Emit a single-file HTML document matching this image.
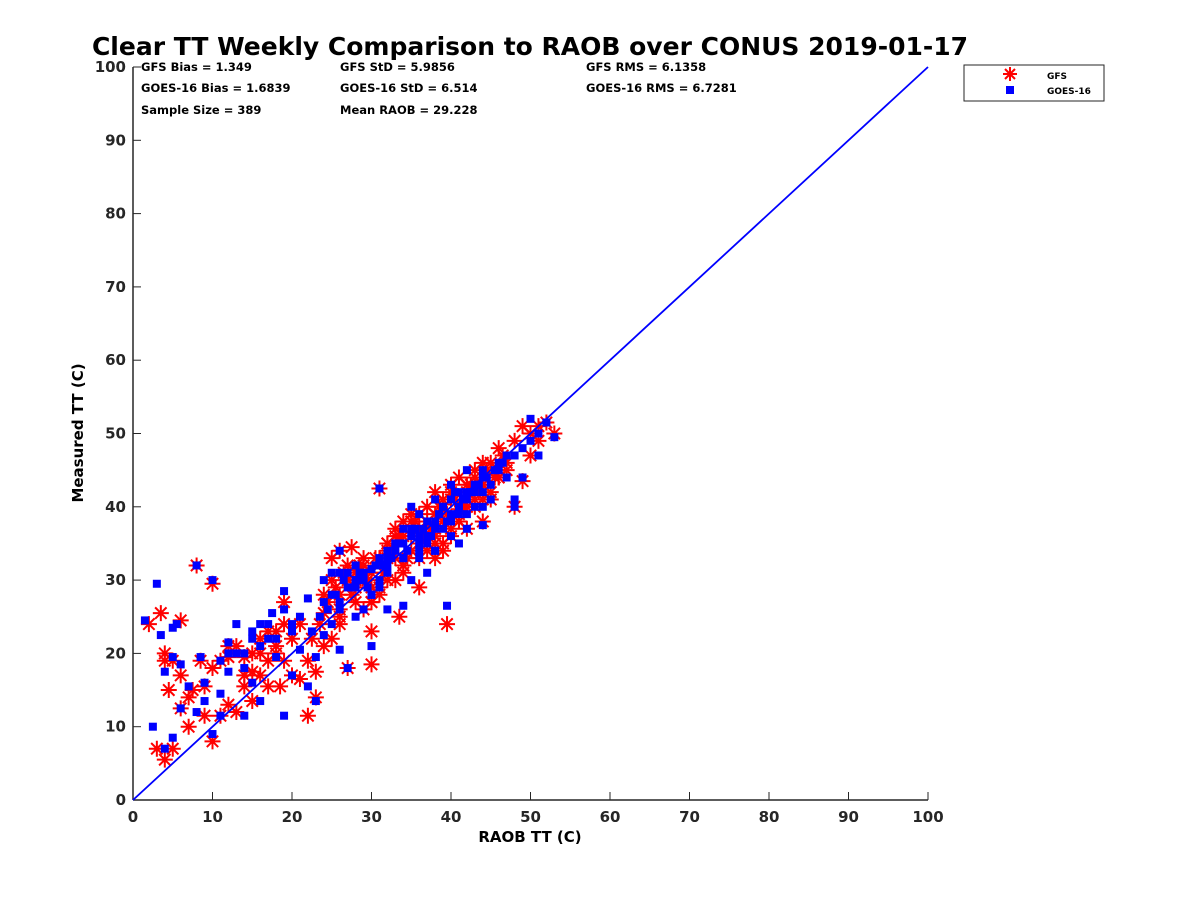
<!DOCTYPE html>
<html><head><meta charset="utf-8"><style>
body{margin:0;background:#fff}
svg{display:block;font-family:"DejaVu Sans","Liberation Sans",sans-serif;font-weight:bold}
</style></head><body>
<svg id="chart" width="1200" height="900" viewBox="0 0 1200 900">
<rect width="1200" height="900" fill="#fff"/>
<text x="530" y="55" font-size="25" text-anchor="middle">Clear TT Weekly Comparison to RAOB over CONUS 2019-01-17</text>
<g font-size="11.5">
<text x="141" y="71">GFS Bias = 1.349</text>
<text x="141" y="92">GOES-16 Bias = 1.6839</text>
<text x="141" y="114">Sample Size = 389</text>
<text x="340" y="71">GFS StD = 5.9856</text>
<text x="340" y="92">GOES-16 StD = 6.514</text>
<text x="340" y="114">Mean RAOB = 29.228</text>
<text x="586" y="71">GFS RMS = 6.1358</text>
<text x="586" y="92">GOES-16 RMS = 6.7281</text>
</g>
<g id="plot"></g>
<g>
<rect x="964" y="65" width="140" height="36" fill="#fff" stroke="#262626" stroke-width="1"/>
<g stroke="red" stroke-width="2">
<line x1="1010" y1="67" x2="1010" y2="81"/><line x1="1003" y1="74" x2="1017" y2="74"/>
<line x1="1005" y1="69" x2="1015" y2="79"/><line x1="1005" y1="79" x2="1015" y2="69"/></g>
<rect x="1006" y="86" width="8" height="8" fill="blue"/>
<text x="1047" y="79" font-size="9">GFS</text>
<text x="1047" y="94" font-size="9">GOES-16</text>
</g>
<text x="530" y="842" font-size="15" text-anchor="middle">RAOB TT (C)</text>
<text transform="translate(83,433) rotate(-90)" font-size="15" text-anchor="middle">Measured TT (C)</text>
</svg>
<script>
const xTicks=[0,10,20,30,40,50,60,70,80,90,100];
const yTicks=[0,10,20,30,40,50,60,70,80,90,100];
const gfsX=[2,3,3.5,4,4,4,4.5,5,5,6,6,6,7,7.5,8,8.5,9,9,10,10,11,11,12,12,13,13,14,14,15,15,16,16,17,17,18,18,18.5,19,19,20,21,21,22,22,23,23,24,24,25,25,26,26,26,27,27,27.5,28,28,29,29,30,30,30,31,31,32,32,33,33,33.5,34,34,35,35,36,36,36,37,37,38,38,38,39,39,39.5,40,40,41,41,42,42,43,43,44,44,45,45,46,46,47,48,49,49,50,51,52,53,29,31,33,35,37,39,41,43,28,30,32,34,36,38,40,42,44,46,
25.5,26.5,27.5,28.5,29.5,30.5,31.5,32.5,33.5,34.5,35.5,36.5,37.5,38.5,39.5,40.5,41.5,42.5,43.5,44.5,45.5,46.5,24.5,26,28,30,32,34,36,38,40,42,44,46,23.5,25,27,29,31,33,35,37,39,41,43,45,47,22.5,24,26,28,30,32,34,36,38,40,42,44,48,50,51,12,14,16,18,20,10,7,15,17,19];
const gfsY=[24,7,25.5,19,20,5.5,15,7,19,24.5,12.5,17,14,15,32,19,11.5,15.5,8,29.5,19,11.5,13,19.5,12,21,19.5,15.5,17.5,13.5,22,17,19,15.5,23,20,15.5,27,19,17,24,16.5,11.5,19,14,17.5,25.5,21,30,22,34,28,24,32,18,34.5,27,30,33,26,23,18.5,31,42.5,28,35,30,33,37,25,31,38,39,34,37,29,33,40,35,42,33,37,38,34,24,41,36,44,39,42,37,40,45,43,38,46,41,44,48,46,40,43.5,51,47,49,51.5,50,31,33,30,36,38,35,38,41,29,27,34,32,39,36,42,40,43,45,
29,31,28,32,30,33,31,34,36,33,38,36,37,40,39,41,40,43,42,45,44,47,27,26,31,29,35,36,35,39,37,43,41,44,24,33,30,32,29,36,38,34,41,38,44,42,45,22,28,25,29,27,33,32,37,35,43,40,46,49,50,51,21,17,20,21,22,18,10,20,23,24];
const goesX=[1.5,2.5,3,3.5,4,4,5,5,5,5.5,6,6,7,8,8.5,9,9,10,10,11,11,12,12,13,13,14,14,15,15,16,16,17,17.5,18,19,19,20,20,21,21,22,22,23,23,24,24,25,25,26,26,26,27,27,28,28,29,29,30,30,31,31,32,32,33,34,34,35,35,36,36,37,37,38,38,39,39.5,40,40,41,41,42,42,43,43,44,44,45,46,47,47,48,48,49,50,50,51,52,53,28,30,32,34,36,38,40,42,44,29,31,33,35,37,39,41,43,
25.5,26.5,27.5,28.5,29.5,30.5,31.5,32.5,33.5,34.5,35.5,36.5,37.5,38.5,39.5,40.5,41.5,42.5,43.5,44.5,45.5,46.5,24.5,26,28,30,32,34,36,38,40,42,44,46,23.5,25,27,29,31,33,35,37,39,41,43,45,22.5,24,26,28,30,32,34,36,38,40,42,44,48,49,51,12,14,16,18,20,11,8,15,17,19];
const goesY=[24.5,10,29.5,22.5,7,17.5,8.5,19.5,23.5,24,18.5,12.5,15.5,32,19.5,16,13.5,9,30,14.5,11.5,21.5,17.5,24,20,20,11.5,23,16,24,13.5,22,25.5,19.5,28.5,11.5,24,17,20.5,25,15.5,27.5,19.5,13.5,30,22.5,28,24,31,34,20.5,29,18,32,25,30,26,21,31.5,42.5,29,33,26,35,37,26.5,30,40,33,39,36,31,41,34,37,26.5,43,38,40,35,45,37,40,42,44,37.5,41,46,44,47,41,40,44,49,52,47,51.5,49.5,29,28,31,33,35,37,39,41,42,31,33,34,36,38,40,42,43,
28,30,29,31,29,32,32,33,35,34,37,37,36,39,38,42,41,42,43,44,45,46,26,27,30,28,34,35,34,38,36,42,40,45,25,31,31,30,30,35,37,35,40,39,43,43,23,27,26,30,28,32,33,36,34,41,39,45,47,48,50,20,18,21,22,23,19,12,22,24,26];
const X0=133,X1=928,Y0=800,Y1=67;
const sx=v=>X0+(v-0)/100*(X1-X0);
const sy=v=>Y0-(v-0)/100*(Y0-Y1);
const NS="http://www.w3.org/2000/svg";
const plot=document.getElementById('plot');
function mk(t,a,p){const e=document.createElementNS(NS,t);for(const k in a)e.setAttribute(k,a[k]);(p||plot).appendChild(e);return e;}
let ax=mk('line',{x1:X0,y1:Y0,x2:X1,y2:Y0,stroke:'#262626','stroke-width':1.5});


let ay=mk('line',{x1:X0,y1:Y0,x2:X0,y2:Y1,stroke:'#262626','stroke-width':1.5});


xTicks.forEach(v=>{
  mk('line',{x1:sx(v),y1:Y0,x2:sx(v),y2:Y0-8,stroke:'#262626','stroke-width':1});
  const t=mk('text',{x:sx(v),y:Y0+22,'font-size':15,'text-anchor':'middle',fill:'#262626'});
  t.textContent=v;
  
  
});
yTicks.forEach(v=>{
  mk('line',{x1:X0,y1:sy(v),x2:X0+8,y2:sy(v),stroke:'#262626','stroke-width':1});
  const t=mk('text',{x:X0-7,y:sy(v)+5,'font-size':15,'text-anchor':'end',fill:'#262626'});
  t.textContent=v;
  
  
});
const gG=mk('g',{stroke:'red','stroke-width':2});


gfsX.forEach((v,i)=>{
  if(gfsY[i]===undefined)return;
  const x=sx(v),y=sy(gfsY[i]),r=8,d=5.7;
  const p=mk('path',{d:`M${x} ${y-r}V${y+r}M${x-r} ${y}H${x+r}M${x-d} ${y-d}L${x+d} ${y+d}M${x-d} ${y+d}L${x+d} ${y-d}`},gG);
  
  
});
const bG=mk('g',{fill:'blue'});


goesX.forEach((v,i)=>{
  if(goesY[i]===undefined)return;
  const r=mk('rect',{x:sx(v)-4,y:sy(goesY[i])-4,width:8,height:8},bG);
  
  
});
const l=mk('line',{x1:sx(0),y1:sy(0),x2:sx(100),y2:sy(100),stroke:'blue','stroke-width':1.8});


</script>
</body></html>
